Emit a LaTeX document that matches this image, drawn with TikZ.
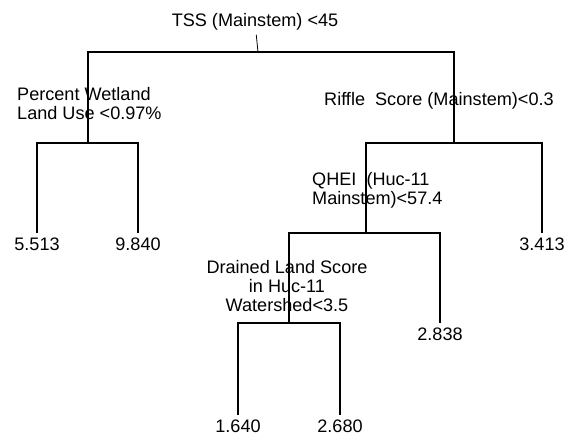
\documentclass[tikz,border=0pt]{standalone}
\usepackage{fontspec}
\setmainfont{Liberation Sans}
\usetikzlibrary{positioning}

\begin{document}
\begin{tikzpicture}[
        x=1pt, y=-1pt,
        every node/.style={inner sep=0pt, font=\fontsize{18.1}{19}\selectfont},
        leaf/.style={inner ysep=4.5pt, anchor=north},
        branch/.style={line width=1.4pt, line join=miter},
        stem/.style={line width=0.8pt}
    ]
        \useasboundingbox (0,0) rectangle (570,441);

        % Split points
        \coordinate (top) at (258,52);
        \coordinate (wet) at (88,143);
        \coordinate (rif) at (454,143);
        \coordinate (qhei) at (366,233);
        \coordinate (drain) at (289,323);

        % Split labels
        \node (tss) [anchor=base, outer sep=4pt] at (255,27) {TSS (Mainstem) <45};
        \node (wetlbl) [anchor=north west, align=left] at (17,87) {Percent Wetland\\Land Use <0.97\%};
        \node (riflbl) [anchor=base west] at (324,106) {Riffle~ Score (Mainstem)<0.3};
        \node (qheilbl) [anchor=north west, align=left] at (312,172) {QHEI~ (Huc-11\\Mainstem)<57.4};
        \node (drainlbl) [anchor=north, align=center] at (287,260) {Drained Land Score\\in Huc-11\\Watershed<3.5};

        % Leaves
        \node (l1) [leaf] at (37,233) {5.513};
        \node (l2) [leaf] at (138,233) {9.840};
        \node (l3) [leaf] at (542,233) {3.413};
        \node (l4) [leaf] at (440,323) {2.838};
        \node (l5) [leaf] at (238,415) {1.640};
        \node (l6) [leaf] at (340,415) {2.680};

        % Branches
        \draw[stem] (tss) -- (top);
        \draw[branch] (wet) |- (top) -| (rif);
        \draw[branch] (l1) |- (wet) -| (l2);
        \draw[branch] (qhei) |- (rif) -| (l3);
        \draw[branch] (drain) |- (qhei) -| (l4);
        \draw[branch] (l5) |- (drain) -| (l6);
    \end{tikzpicture}
\end{document}
